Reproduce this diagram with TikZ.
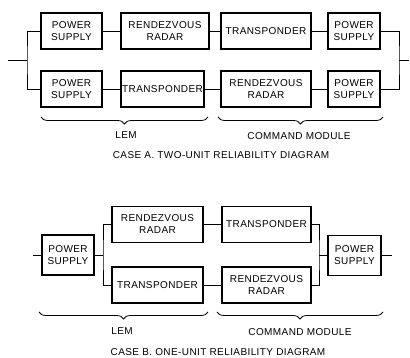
\documentclass[tikz,border=0pt]{standalone}
\usepackage{fontspec}
\setmainfont{Liberation Sans}[LetterSpace=4]
\usetikzlibrary{positioning, decorations.pathreplacing}

\begin{document}
\begin{tikzpicture}[
  x=1pt, y=-1pt,
  font=\fontsize{10}{12}\selectfont,
  blk/.style={
    draw=black, line width=1.2pt, inner sep=0pt,
    minimum height=36pt, align=center
  },
  wire/.style={draw=black, line width=0.8pt},
  brc/.style={
    draw=black, line width=0.8pt, decorate,
    decoration={brace, mirror, amplitude=7pt}
  },
  lbl/.style={inner sep=0pt}
]
\useasboundingbox (0,0) rectangle (410,358);

% case A
\node[blk, minimum width=61pt] (psA1) at (71.5,31) {POWER\\SUPPLY};
\node[blk, minimum width=88pt] (rrA1) at (165,31) {RENDEZVOUS\\RADAR};
\node[blk, minimum width=90pt] (trA1) at (266,31) {TRANSPONDER};
\node[blk, minimum width=52pt] (psA3) at (354,31) {POWER\\SUPPLY};
\node[blk, minimum width=61pt] (psA2) at (71.5,89) {POWER\\SUPPLY};
\node[blk, minimum width=83pt] (trA2) at (162.5,89) {TRANSPONDER};
\node[blk, minimum width=90pt] (rrA2) at (266,89) {RENDEZVOUS\\RADAR};
\node[blk, minimum width=52pt] (psA4) at (354,89) {POWER\\SUPPLY};

\coordinate (inA) at (8,60);
\coordinate (jA) at (27,60);
\coordinate (kA) at (399,60);
\coordinate (outA) at (409,60);

\draw[wire] (inA) -- (jA);
\draw[wire] (psA1.west) -| (jA) |- (psA2.west);
\draw[wire] (psA1) -- (rrA1);
\draw[wire] (rrA1) -- (trA1);
\draw[wire] (trA1) -- (psA3);
\draw[wire] (psA2) -- (trA2);
\draw[wire] (trA2) -- (rrA2);
\draw[wire] (rrA2) -- (psA4);
\draw[wire] (psA3.east) -| (kA) |- (psA4.east);
\draw[wire] (kA) -- (outA);

\coordinate (lemA1) at (41,117);
\coordinate (lemA2) at (208,117);
\coordinate (cmA1) at (218,117);
\coordinate (cmA2) at (383,117);
\draw[brc] (lemA1) -- (lemA2);
\draw[brc] (cmA1) -- (cmA2);
\node[lbl] (lemA) at (126,135) {LEM};
\node[lbl] (cmA) at (299,136) {COMMAND MODULE};
\node[lbl] (capA) at (221,155) {CASE A. TWO-UNIT RELIABILITY DIAGRAM};

% case B
\node[blk, minimum width=52pt, minimum height=40pt] (psB1) at (68,255) {POWER\\SUPPLY};
\node[blk, minimum width=91pt] (rrB1) at (157.5,224.5) {RENDEZVOUS\\RADAR};
\node[blk, minimum width=91pt] (trB1) at (157.5,285) {TRANSPONDER};
\node[blk, minimum width=89pt] (trB2) at (266.5,224.5) {TRANSPONDER};
\node[blk, minimum width=89pt] (rrB2) at (266.5,285) {RENDEZVOUS\\RADAR};
\node[blk, minimum width=53pt, minimum height=40pt] (psB2) at (354.5,255.5) {POWER\\SUPPLY};

\coordinate (inB) at (33,255);
\coordinate (jB) at (103,255);
\coordinate (kB) at (319,255.5);
\coordinate (outB) at (392,255.5);

\draw[wire] (inB) -- (psB1);
\draw[wire] (psB1.east) -- (jB);
\draw[wire] (rrB1.west) -| (jB) |- (trB1.west);
\draw[wire] (rrB1) -- (trB2);
\draw[wire] (trB1) -- (rrB2);
\draw[wire] (trB2.east) -| (kB) |- (rrB2.east);
\draw[wire] (kB) -- (psB2);
\draw[wire] (psB2) -- (outB);

\coordinate (lemB1) at (39,312);
\coordinate (lemB2) at (208,312);
\coordinate (cmB1) at (217,312);
\coordinate (cmB2) at (383,312);
\draw[brc] (lemB1) -- (lemB2);
\draw[brc] (cmB1) -- (cmB2);
\node[lbl] (lemB) at (122,331) {LEM};
\node[lbl] (cmB) at (300,332) {COMMAND MODULE};
\node[lbl] (capB) at (218,352) {CASE B. ONE-UNIT RELIABILITY DIAGRAM};

\end{tikzpicture}
\end{document}
